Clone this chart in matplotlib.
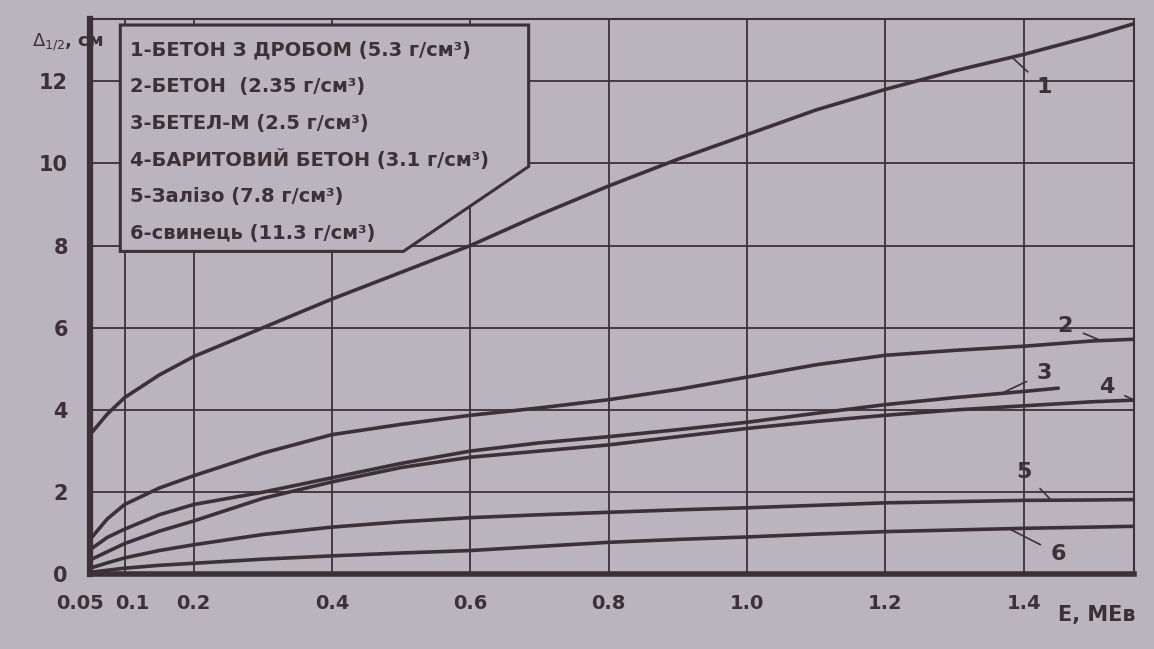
import matplotlib
matplotlib.use("Agg")
import matplotlib.pyplot as plt
from matplotlib.patches import Polygon
from matplotlib.transforms import ScaledTranslation

# ---- data ----
energy = [0.05, 0.075, 0.1, 0.15, 0.2, 0.3, 0.4, 0.5, 0.6, 0.7, 0.8, 0.9,
          1.0, 1.1, 1.2, 1.3, 1.4, 1.5, 1.56]
energy_3 = [0.05, 0.075, 0.1, 0.15, 0.2, 0.3, 0.4, 0.5, 0.6, 0.7, 0.8, 0.9,
            1.0, 1.1, 1.2, 1.3, 1.4, 1.45]

hvl_1 = [3.4, 3.9, 4.3, 4.85, 5.3, 6.0, 6.7, 7.35, 8.0, 8.75, 9.45, 10.1,
         10.7, 11.3, 11.8, 12.25, 12.65, 13.1, 13.4]
hvl_2 = [0.85, 1.35, 1.7, 2.1, 2.4, 2.95, 3.4, 3.65, 3.87, 4.05, 4.25, 4.5,
         4.8, 5.1, 5.33, 5.45, 5.55, 5.68, 5.72]
hvl_3 = [0.6, 0.9, 1.1, 1.45, 1.7, 2.0, 2.35, 2.7, 3.0, 3.2, 3.35, 3.52,
         3.7, 3.92, 4.13, 4.3, 4.45, 4.53]
hvl_4 = [0.35, 0.55, 0.75, 1.05, 1.3, 1.85, 2.25, 2.6, 2.85, 3.0, 3.15, 3.35,
         3.55, 3.72, 3.87, 4.0, 4.1, 4.2, 4.24]
hvl_5 = [0.15, 0.28, 0.4, 0.58, 0.72, 0.97, 1.15, 1.28, 1.38, 1.45, 1.51, 1.57,
         1.62, 1.68, 1.74, 1.77, 1.8, 1.81, 1.82]
hvl_6 = [0.05, 0.1, 0.15, 0.22, 0.27, 0.37, 0.45, 0.52, 0.58, 0.68, 0.78, 0.85,
         0.91, 0.98, 1.04, 1.08, 1.12, 1.15, 1.17]

legend_lines = [
    "1-БЕТОН З ДРОБОМ (5.3 г/см³)",
    "2-БЕТОН  (2.35 г/см³)",
    "3-БЕТЕЛ-М (2.5 г/см³)",
    "4-БАРИТОВИЙ БЕТОН (3.1 г/см³)",
    "5-Залізо (7.8 г/см³)",
    "6-свинець (11.3 г/см³)",
]
curve_labels = ["1", "2", "3", "4", "5", "6"]
x_ticks = [0.05, 0.1, 0.2, 0.4, 0.6, 0.8, 1.0, 1.2, 1.4]
x_tick_labels = ["0.05", "0.1", "0.2", "0.4", "0.6", "0.8", "1.0", "1.2", "1.4"]
y_ticks = [0, 2, 4, 6, 8, 10, 12]
y_tick_labels = ["0", "2", "4", "6", "8", "10", "12"]

PAPER = "#bab5bd"
INK = "#3a3236"

plt.rcParams["font.family"] = ["DejaVu Sans"]

fig = plt.figure(figsize=(11.54, 6.49), dpi=100, facecolor=PAPER)
ax = fig.add_axes([0.078, 0.115, 0.905, 0.855])
ax.set_facecolor(PAPER)
ax.set_xlim(0.05, 1.56)
ax.set_ylim(0, 13.5)

ax.set_xticks(x_ticks)
ax.set_xticklabels(x_tick_labels)
ax.set_yticks(y_ticks)
ax.set_yticklabels(y_tick_labels)
ax.grid(True, color=INK, lw=1.3)
ax.set_axisbelow(True)
ax.tick_params(length=0, labelsize=15, colors=INK)
ax.tick_params(axis="x", pad=14, labelsize=14)
ax.tick_params(axis="y", pad=16)
for lab in ax.get_xticklabels() + ax.get_yticklabels():
    lab.set_fontweight("bold")

# nudge the two crowded leftmost x labels apart
xlabs = ax.get_xticklabels()
xlabs[0].set_transform(xlabs[0].get_transform() + ScaledTranslation(-10 / 100, 0, fig.dpi_scale_trans))
xlabs[1].set_transform(xlabs[1].get_transform() + ScaledTranslation(8 / 100, 0, fig.dpi_scale_trans))

for side, lw in [("left", 4.5), ("bottom", 4.0), ("top", 1.5), ("right", 1.5)]:
    ax.spines[side].set_linewidth(lw)
    ax.spines[side].set_color(INK)

line_kw = dict(color=INK, lw=2.6, solid_capstyle="round", solid_joinstyle="round")
ax.plot(energy, hvl_1, **line_kw)
ax.plot(energy, hvl_2, **line_kw)
ax.plot(energy_3, hvl_3, **line_kw)
ax.plot(energy, hvl_4, **line_kw)
ax.plot(energy, hvl_5, **line_kw)
ax.plot(energy, hvl_6, **line_kw)

# curve number labels with leader lines
label_pos = [(1.43, 11.85), (1.46, 6.05), (1.43, 4.9), (1.52, 4.55), (1.40, 2.5), (1.45, 0.5)]
leader_to = [(1.385, 12.55), (1.51, 5.7), (1.37, 4.42), (1.56, 4.24), (1.44, 1.8), (1.38, 1.1)]
for lab, (tx, ty), (px, py) in zip(curve_labels, label_pos, leader_to):
    ax.annotate(lab, xy=(px, py), xytext=(tx, ty), ha="center", va="center",
                fontsize=16, color=INK, fontweight="bold",
                arrowprops=dict(arrowstyle="-", color=INK, lw=1.2,
                                shrinkA=6, shrinkB=0))

# legend box with chamfered corner
poly = Polygon([(0.029, 0.99), (0.420, 0.99), (0.420, 0.735), (0.300, 0.582),
                (0.029, 0.582)], closed=True, transform=ax.transAxes,
               facecolor=PAPER, edgecolor=INK, lw=2.2, zorder=5)
ax.add_patch(poly)
for i, txt in enumerate(legend_lines):
    ax.text(0.038, 0.945 - i * 0.066, txt, transform=ax.transAxes,
            fontsize=14, color=INK, fontweight="bold", va="center", ha="left",
            zorder=6)

# axis titles
fig.text(0.028, 0.935, r"$\Delta_{1/2}$, см", fontsize=13, color=INK,
         fontweight="bold", ha="left", va="center")
ax.text(1.505, -0.055, "E, МЕв", transform=ax.get_xaxis_transform(),
        fontsize=15, color=INK, fontweight="bold", ha="center", va="top")

fig.savefig("out.png", dpi=100, facecolor=PAPER)
